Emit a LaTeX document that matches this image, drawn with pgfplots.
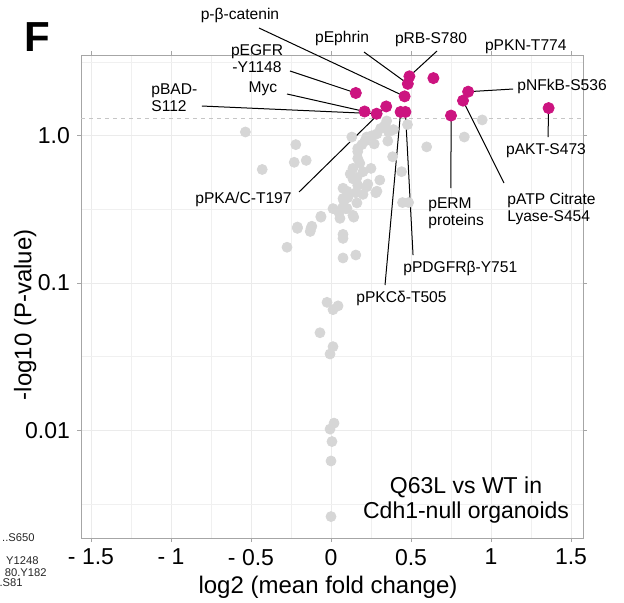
\documentclass[border=0pt]{standalone}
\usepackage{fontspec}
\setmainfont{Liberation Sans}
\usepackage{pgfplots}
\pgfplotsset{compat=1.18}
\definecolor{hit}{HTML}{CC1480}
\definecolor{nonhit}{HTML}{D6D6D6}
\definecolor{gridc}{HTML}{EBEBEB}
\definecolor{framec}{HTML}{A6A6A6}
\newcommand{\lab}{\fontsize{7.8}{8.7}\selectfont}

\begin{document}
\begin{tikzpicture}
\begin{axis}[
  at={(0,0)}, anchor=south west,
  scale only axis, width=251pt, height=241.5pt,
  xmin=-1.5625, xmax=1.575,
  ymode=log, ymin=0.00186, ymax=3.53,
  xtick={-1.5,-1,-0.5,0,0.5,1,1.5}, xticklabels={- 1.5,- 1,- 0.5,0,0.5,1,1.5},
  minor xtick={-1.25,-0.75,-0.25,0.25,0.75,1.25},
  ytick={0.01,0.1,1}, yticklabels={0.01,0.1,1.0},
  minor ytick={0.003162,0.03162,0.3162,3.162},
  grid=both,
  major grid style={gridc, line width=0.5pt},
  minor grid style={gridc!75, line width=0.4pt},
  axis line style={framec, line width=0.5pt},
  tick align=outside, major tick length=2pt, minor tick length=0pt,
  tick style={framec, line width=0.5pt},
  ticklabel style={font=\fontsize{11.5}{13}\selectfont},
  label style={font=\fontsize{12}{14}\selectfont},
  xlabel={log2 (mean fold change)},
  ylabel={-log10 (P-value)},
  xlabel style={at={(rel axis cs:0.492,-0.1014)}, anchor=center},
  ylabel style={at={(rel axis cs:-0.111,0.462)}, anchor=center},
  clip=false,
]
% significance threshold, p = 0.05
\addplot[color=gray!45, line width=0.4pt, dash pattern=on 2pt off 2pt]
  coordinates {(-1.5625,1.301) (1.575,1.301)};

% not significant
\addplot[only marks, mark=*, mark size=2.5pt, color=nonhit]
  table {
x y
-0.535 1.06
-0.22 0.87
-0.23 0.66
-0.155 0.68
-0.43 0.59
-0.275 0.175
-0.21 0.235
-0.13 0.224
-0.12 0.243
-0.063 0.284
0.056 0.275
0.069 0.321
0.10 0.321
0.137 0.288
0.075 0.201
0.075 0.214
0.075 0.148
0.155 0.155
0.447 0.352
0.485 0.352
0.598 0.84
0.833 0.98
0.945 1.28
0.441 0.57
0.385 0.72
0.305 0.50
0.28 0.41
0.223 0.45
0.162 0.35
0.105 0.38
0.075 0.44
0.137 0.51
0.162 0.52
0.167 0.46
0.137 0.60
0.18 0.65
0.167 0.78
0.193 0.87
0.212 0.92
0.223 0.98
0.255 1.0
0.287 1.03
0.335 1.17
0.348 1.26
0.36 1.06
0.355 0.92
0.13 0.98
0.478 1.19
0.075 0.375
0.167 0.82
0.167 0.70
0.2 0.57
0.23 0.47
0.287 0.42
0.10 0.42
0.155 0.41
0.08 0.36
0.0125 0.32
0.092 0.32
0.142 0.28
-0.063 0.28
-0.21 0.24
-0.125 0.235
0.31 1.12
0.27 0.88
0.12 0.55
0.2 0.40
0.25 0.60
0.05 0.30
0.39 1.10
-0.025 0.074
0.0125 0.066
0.044 0.070
-0.069 0.046
0.0125 0.037
-0.006 0.033
0.019 0.0112
-0.006 0.0102
0.006 0.0084
0.0 0.0062
0.0 0.0026
};

% significant
\addplot[only marks, mark=*, mark size=2.8pt, color=hit]
  table {
x y
0.155 1.95
0.21 1.46
0.285 1.41
0.345 1.58
0.435 1.45
0.465 1.45
0.46 1.85
0.48 2.25
0.49 2.53
0.64 2.46
0.857 1.99
0.825 1.73
0.75 1.37
1.36 1.54
};

% leader lines
\begin{scope}[line width=0.5pt, black]
\draw (rel axis cs:0.3546,1.0559) -- (axis cs:0.46,1.85);
\draw (rel axis cs:0.5637,1.0062) -- (axis cs:0.48,2.25);
\draw (rel axis cs:0.7092,1.0083) -- (axis cs:0.49,2.53);
\draw (rel axis cs:0.4163,0.9669) -- (axis cs:0.155,1.95);
\draw (rel axis cs:0.4104,0.9193) -- (axis cs:0.21,1.46);
\draw (rel axis cs:0.241,0.8944) -- (axis cs:0.285,1.41);
\draw (rel axis cs:0.8606,0.9296) -- (axis cs:0.857,1.99);
\draw (rel axis cs:0.9303,0.8302) -- (axis cs:1.36,1.54);
\draw (rel axis cs:0.8426,0.735) -- (axis cs:0.825,1.73);
\draw (rel axis cs:0.737,0.7246) -- (axis cs:0.75,1.37);
\draw (rel axis cs:0.4343,0.7164) -- (axis cs:0.345,1.58);
\draw (rel axis cs:0.6614,0.5859) -- (axis cs:0.465,1.45);
\draw (rel axis cs:0.6056,0.5238) -- (axis cs:0.435,1.45);
\end{scope}

% labels
\begin{scope}[font=\lab, inner sep=0pt]
\node at (rel axis cs:0.3167,1.0828) {p-β-catenin};
\node at (rel axis cs:0.520,1.0352) {pEphrin};
\node at (rel axis cs:0.6972,1.0311) {pRB-S780};
\node[anchor=east] at (rel axis cs:0.968,1.0166) {pPKN-T774};
\node[align=center] at (rel axis cs:0.3506,0.9928) {pEGFR\\-Y1148};
\node at (rel axis cs:0.3625,0.9296) {Myc};
\node[anchor=west, align=left] at (rel axis cs:0.1394,0.911) {pBAD-\\S112};
\node[anchor=west] at (rel axis cs:0.8685,0.9358) {pNFkB-S536};
\node at (rel axis cs:0.9263,0.8012) {pAKT-S473};
\node[anchor=west, align=left] at (rel axis cs:0.8486,0.6812) {pATP Citrate\\Lyase-S454};
\node[anchor=west, align=left] at (rel axis cs:0.6912,0.6729) {pERM\\proteins};
\node[anchor=east] at (rel axis cs:0.4203,0.7019) {pPKA/C-T197};
\node[anchor=west] at (rel axis cs:0.6414,0.559) {pPDGFRβ-Y751};
\node[anchor=west] at (rel axis cs:0.5478,0.4969) {pPKCδ-T505};
\end{scope}

\node[font=\fontsize{11.5}{12.5}\selectfont, align=center] at (rel axis cs:0.767,0.0787)
  {Q63L vs WT in\\Cdh1-null organoids};
\node[font=\fontsize{21}{21}\selectfont\bfseries] at (rel axis cs:-0.0876,1.0373) {F};

% cut-off labels of the neighbouring panel
\begin{scope}[font=\fontsize{5.6}{6}\selectfont, inner sep=0pt, anchor=east, text=black!85]
\node at (rel axis cs:-0.0916,0) {..S650};
\node at (rel axis cs:-0.0837,-0.0476) {Y1248};
\node at (rel axis cs:-0.0677,-0.0725) {80.Y182};
\node at (rel axis cs:-0.1155,-0.0932) {.S81};
\end{scope}
\end{axis}
\pgfresetboundingbox
\path[use as bounding box] (-40.5pt,-32pt) rectangle (271.5pt,269pt);
\end{tikzpicture}
\end{document}
